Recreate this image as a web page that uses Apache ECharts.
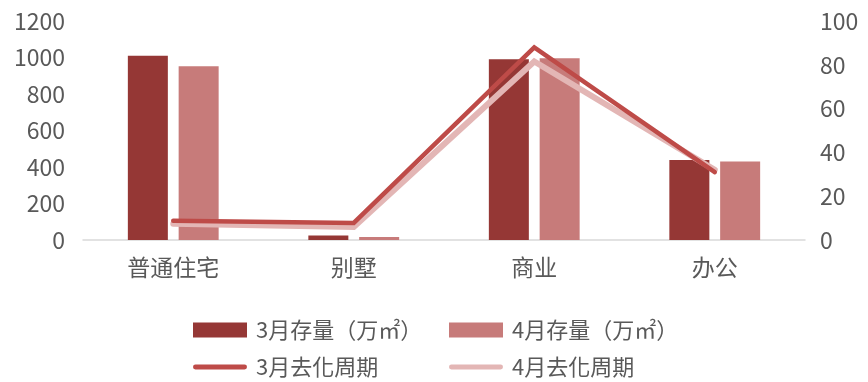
<!DOCTYPE html>
<html>
<head>
<meta charset="utf-8">
<style>
  html, body { margin: 0; padding: 0; background: #ffffff; }
  #chart { width: 868px; height: 382px; }
</style>
<script src="https://cdn.jsdelivr.net/npm/echarts@6/dist/echarts.min.js"></script>
</head>
<body>
<div id="chart"></div>
<script>
// Property types
const categories = ['普通住宅', '别墅', '商业', '办公'];

// Inventory (10k m²), left axis
const stockMar = [1010, 24, 990, 438];
const stockApr = [952, 17, 996, 430];

// Months of supply, right axis
const cycleMar = [8.8, 7.8, 88, 31];
const cycleApr = [7.4, 6.0, 81.5, 32];

// Axis ticks
const leftTicks = { min: 0, max: 1200, interval: 200 };
const rightTicks = { min: 0, max: 100, interval: 20 };

const names = {
  stockMar: '3月存量（万㎡）',
  stockApr: '4月存量（万㎡）',
  cycleMar: '3月去化周期',
  cycleApr: '4月去化周期'
};

const FONT = '"Noto Sans CJK SC", "Noto Sans", sans-serif';
const LEGEND_FONT = '"Noto Sans CJK TC", "Noto Sans CJK SC", sans-serif';
const TEXT = '#595959';

// Rounded stroke used as the legend swatch of the two line series
const lineIcon = 'path://M2.5,0 L53.5,0 A2.5,2.5 0 0 1 53.5,5 L2.5,5 A2.5,2.5 0 0 1 2.5,0 Z';

const chart = echarts.init(document.getElementById('chart'), null, { renderer: 'canvas' });

const legendCommon = {
  orient: 'vertical',
  top: 319,
  height: 70,
  padding: 0,
  itemWidth: 54,
  itemHeight: 15,
  itemGap: 15,
  selectedMode: false,
  textStyle: { fontFamily: LEGEND_FONT, fontSize: 22, color: TEXT, lineHeight: 22, padding: [0, 0, 0, 4] }
};

chart.setOption({
  animation: false,
  backgroundColor: '#ffffff',
  textStyle: { fontFamily: FONT },
  grid: { left: 83, right: 63, top: 21, bottom: 142 },
  legend: [
    Object.assign({}, legendCommon, {
      left: 193,
      data: [
        { name: names.stockMar, icon: 'rect' },
        { name: names.cycleMar, icon: lineIcon }
      ]
    }),
    Object.assign({}, legendCommon, {
      left: 449,
      data: [
        { name: names.stockApr, icon: 'rect' },
        { name: names.cycleApr, icon: lineIcon }
      ]
    })
  ],
  xAxis: {
    type: 'category',
    data: categories,
    axisLine: { lineStyle: { color: '#D9D9D9', width: 1.5 } },
    axisTick: { show: false },
    axisLabel: { color: TEXT, fontSize: 23, margin: 16, fontFamily: FONT }
  },
  yAxis: [
    {
      type: 'value',
      min: leftTicks.min, max: leftTicks.max, interval: leftTicks.interval,
      splitLine: { show: false },
      axisLine: { show: false },
      axisTick: { show: false },
      axisLabel: { color: TEXT, fontSize: 23, margin: 18, fontFamily: FONT, formatter: v => String(v) }
    },
    {
      type: 'value',
      min: rightTicks.min, max: rightTicks.max, interval: rightTicks.interval,
      splitLine: { show: false },
      axisLine: { show: false },
      axisTick: { show: false },
      axisLabel: { color: TEXT, fontSize: 23, margin: 15, fontFamily: FONT, formatter: v => String(v) }
    }
  ],
  series: [
    {
      name: names.stockMar,
      type: 'bar',
      data: stockMar,
      barWidth: 40,
      barGap: '27%',
      itemStyle: { color: '#953735' },
      z: 2
    },
    {
      name: names.stockApr,
      type: 'bar',
      data: stockApr,
      barWidth: 40,
      barGap: '27%',
      itemStyle: { color: '#C77B7A' },
      z: 2
    },
    {
      name: names.cycleApr,
      type: 'line',
      yAxisIndex: 1,
      data: cycleApr,
      symbol: 'none',
      lineStyle: { color: '#E3B6B5', width: 6, cap: 'round', join: 'miter' },
      itemStyle: { color: '#E3B6B5' },
      z: 3
    },
    {
      name: names.cycleMar,
      type: 'line',
      yAxisIndex: 1,
      data: cycleMar,
      symbol: 'none',
      lineStyle: { color: '#BE4B48', width: 4.5, cap: 'round', join: 'miter' },
      itemStyle: { color: '#BE4B48' },
      z: 4
    }
  ]
});
</script>
</body>
</html>
